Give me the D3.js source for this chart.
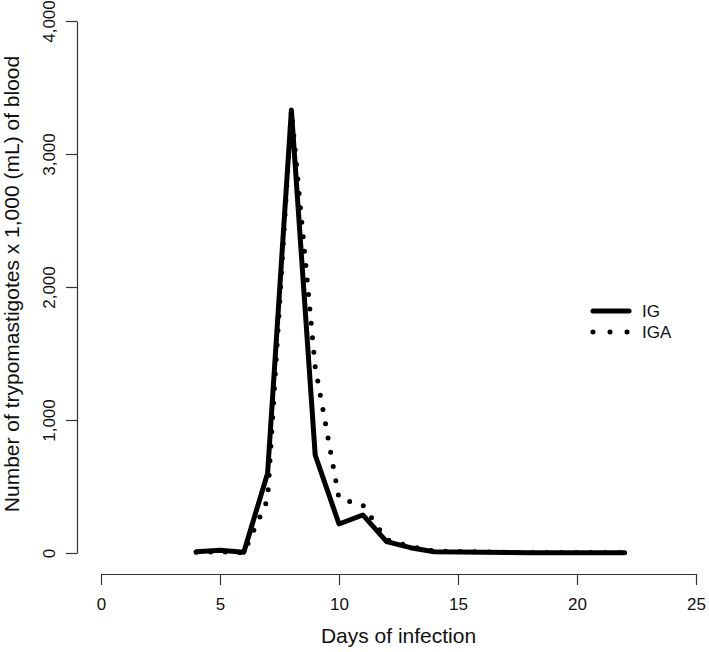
<!DOCTYPE html>
<html>
<head>
<meta charset="utf-8">
<script src="https://cdn.jsdelivr.net/npm/d3@7"></script>
<style>
  html, body { margin: 0; padding: 0; background: #fff; }
  svg { display: block; font-family: "Liberation Sans", Arial, Helvetica, sans-serif; }
</style>
</head>
<body>
<svg id="chart" width="709" height="652"></svg>
<script>
// ---- data ----
const days = [4, 5, 6, 7, 8, 9, 10, 11, 12, 13, 14, 18, 22];
const igValues  = [10, 20, 5, 600, 3330, 737, 218, 286, 85, 40, 10, 2, 2];
const igaValues = [5, 10, 0, 400, 3330, 1400, 410, 360, 100, 50, 15, 3, 3];
const xTicks = [0, 5, 10, 15, 20, 25];
const yTicks = [0, 1000, 2000, 3000, 4000];
const seriesNames = ["IG", "IGA"];
const xTitle = "Days of infection";
const yTitle = "Number of trypomastigotes x 1,000 (mL) of blood";

// ---- scales ----
const svg = d3.select("#chart");
const x = d3.scaleLinear().domain([0, 25]).range([101, 696]);
const y = d3.scaleLinear().domain([0, 4000]).range([553, 21]);
const axisColor = "#333";

// ---- x axis ----
const gx = svg.append("g").attr("transform", "translate(0,574)")
  .call(d3.axisBottom(x).tickValues(xTicks).tickSize(11).tickSizeOuter(0).tickPadding(13).tickFormat(d3.format("d")));
gx.select(".domain").attr("stroke", axisColor).attr("stroke-width", 1.2);
gx.selectAll(".tick line").attr("stroke", axisColor).attr("stroke-width", 1.2);
gx.selectAll(".tick text").attr("font-size", 17).attr("fill", "#111")
  .attr("font-family", "Liberation Sans, Arial, sans-serif");

// ---- y axis ----
const gy = svg.append("g").attr("transform", "translate(77,0)")
  .call(d3.axisLeft(y).tickValues(yTicks).tickSize(11).tickSizeOuter(0).tickFormat(d3.format(",")));
gy.select(".domain").attr("stroke", axisColor).attr("stroke-width", 1.2);
gy.selectAll(".tick line").attr("stroke", axisColor).attr("stroke-width", 1.2);
gy.selectAll(".tick text")
  .attr("font-size", 17).attr("fill", "#111")
  .attr("font-family", "Liberation Sans, Arial, sans-serif")
  .attr("x", null).attr("dy", null)
  .attr("text-anchor", "middle")
  .attr("transform", "translate(-22,0) rotate(-90)");

// ---- titles ----
svg.append("text").attr("x", x(12.5)).attr("y", 643)
  .attr("text-anchor", "middle").attr("font-size", 21).attr("fill", "#111").text(xTitle);
svg.append("text").attr("transform", "translate(19,284) rotate(-90)")
  .attr("text-anchor", "middle").attr("font-size", 21).attr("fill", "#111").text(yTitle);

// ---- lines ----
const line = d3.line().x((d, i) => x(days[i])).y(d => y(d));
svg.append("path").datum(igaValues).attr("d", line)
  .attr("fill", "none").attr("stroke", "#000").attr("stroke-width", 5)
  .attr("stroke-linecap", "round").attr("stroke-dasharray", "0 14.5");
svg.append("path").datum(igValues).attr("d", line)
  .attr("fill", "none").attr("stroke", "#000").attr("stroke-width", 5)
  .attr("stroke-linejoin", "round").attr("stroke-linecap", "round");

// ---- legend ----
const legend = svg.append("g");
const legY = [311, 332];
legend.append("line").attr("x1", 593).attr("x2", 629).attr("y1", legY[0]).attr("y2", legY[0])
  .attr("stroke", "#000").attr("stroke-width", 5).attr("stroke-linecap", "round");
legend.append("line").attr("x1", 593).attr("x2", 628).attr("y1", legY[1]).attr("y2", legY[1])
  .attr("stroke", "#000").attr("stroke-width", 5).attr("stroke-linecap", "round")
  .attr("stroke-dasharray", "0 17");
seriesNames.forEach((n, i) => {
  legend.append("text").attr("x", 642).attr("y", legY[i] + 6)
    .attr("font-size", 17).attr("fill", "#111").text(n);
});
</script>
</body>
</html>
